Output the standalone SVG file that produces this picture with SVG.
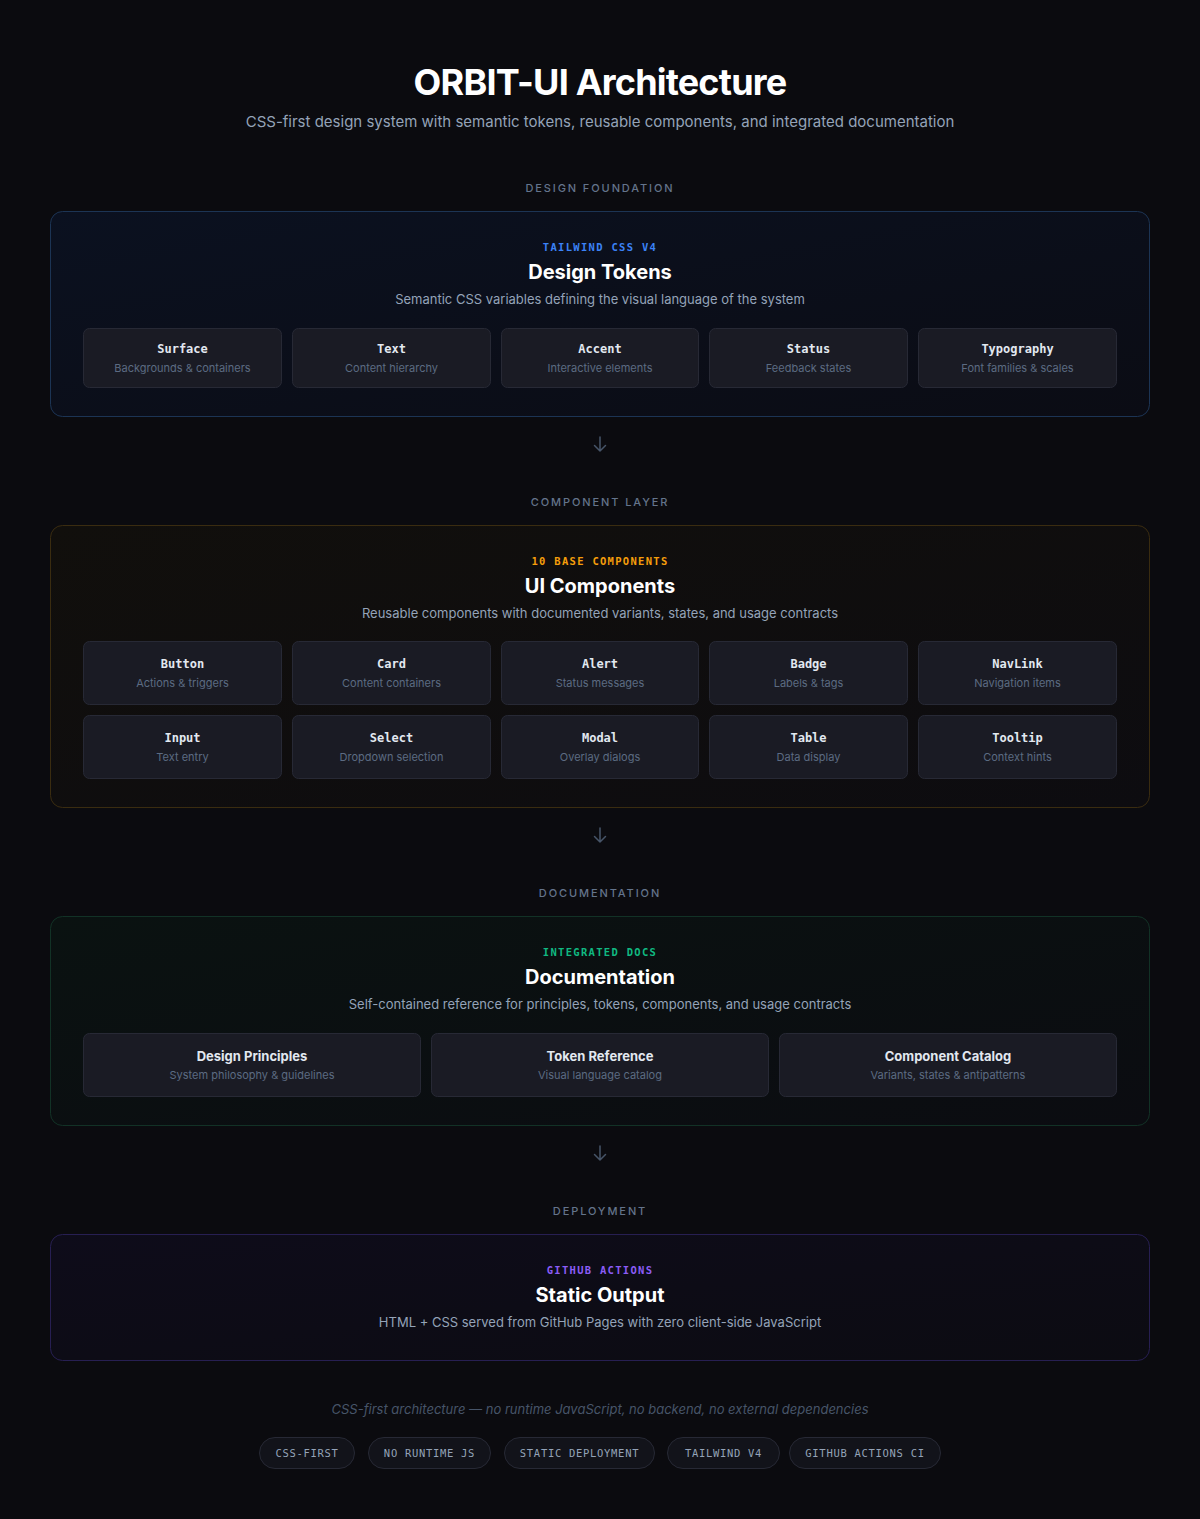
<svg xmlns="http://www.w3.org/2000/svg" width="1200" height="1519" viewBox="0 0 1200 1519">
<defs>
<style>
.sans{font-family:Inter,"Liberation Sans",sans-serif}
.mono{font-family:"DejaVu Sans Mono","Liberation Mono",monospace}
.h1{font-size:36px;font-weight:700;fill:#ffffff;letter-spacing:-0.8px}
.sub{font-size:15px;fill:#94a3b8}
.sec{font-size:11px;fill:#64748b;letter-spacing:1.9px;font-weight:500}
.tag{font-size:10.5px;font-weight:700;letter-spacing:1.3px}
.ptitle{font-size:20px;font-weight:700;fill:#ffffff}
.pdesc{font-size:13px;fill:#94a3b8}
.card{fill:#1a1b24;stroke:#272935;stroke-width:1}
.ct{font-size:12px;font-weight:700;fill:#e2e8f0}
.cs{font-size:11px;fill:#5c6b82}
.dt{font-size:13px;font-weight:700;fill:#e2e8f0}
.arrow{fill:none;stroke:#475569;stroke-width:1.5;stroke-linecap:round;stroke-linejoin:round}
.pill{fill:#12131a;stroke:#272935;stroke-width:1}
.pt{font-size:10.5px;fill:#94a3b8;letter-spacing:0.7px}
</style>
<linearGradient id="g1" x1="0" y1="0" x2="1" y2="1"><stop offset="0" stop-color="#0b1120"/><stop offset="1" stop-color="#0b0c14"/></linearGradient>
<linearGradient id="g2" x1="0" y1="0" x2="1" y2="1"><stop offset="0" stop-color="#110f0c"/><stop offset="1" stop-color="#0d0c10"/></linearGradient>
<linearGradient id="g3" x1="0" y1="0" x2="1" y2="1"><stop offset="0" stop-color="#0a1211"/><stop offset="1" stop-color="#0b0c11"/></linearGradient>
<linearGradient id="g4" x1="0" y1="0" x2="1" y2="1"><stop offset="0" stop-color="#0e0c1a"/><stop offset="1" stop-color="#0c0c12"/></linearGradient>
</defs>
<rect width="1200" height="1519" fill="#0b0b0f"/>

<g id="header">
<text class="sans h1" x="600" y="95" text-anchor="middle">ORBIT-UI Architecture</text>
<text class="sans sub" x="600" y="127" text-anchor="middle">CSS-first design system with semantic tokens, reusable components, and integrated documentation</text>
</g>

<g id="design-tokens">
<text class="sans sec" x="600" y="192" text-anchor="middle">DESIGN FOUNDATION</text>
<rect x="50.5" y="211.5" width="1099" height="205" rx="12" fill="url(#g1)" stroke="#1c3454"/>
<text class="mono tag" x="600" y="251" text-anchor="middle" fill="#3b82f6">TAILWIND CSS V4</text>
<text class="sans ptitle" x="600" y="279" text-anchor="middle">Design Tokens</text>
<text class="sans pdesc" x="600" y="304" text-anchor="middle">Semantic CSS variables defining the visual language of the system</text>
<g id="tok-surface"><rect class="card" x="83.5" y="328.5" width="198" height="59" rx="6"/><text class="mono ct" x="182.5" y="353" text-anchor="middle">Surface</text><text class="sans cs" x="182.5" y="372" text-anchor="middle">Backgrounds &amp; containers</text></g>
<g id="tok-text"><rect class="card" x="292.5" y="328.5" width="198" height="59" rx="6"/><text class="mono ct" x="391.5" y="353" text-anchor="middle">Text</text><text class="sans cs" x="391.5" y="372" text-anchor="middle">Content hierarchy</text></g>
<g id="tok-accent"><rect class="card" x="501.5" y="328.5" width="197" height="59" rx="6"/><text class="mono ct" x="600" y="353" text-anchor="middle">Accent</text><text class="sans cs" x="600" y="372" text-anchor="middle">Interactive elements</text></g>
<g id="tok-status"><rect class="card" x="709.5" y="328.5" width="198" height="59" rx="6"/><text class="mono ct" x="808.5" y="353" text-anchor="middle">Status</text><text class="sans cs" x="808.5" y="372" text-anchor="middle">Feedback states</text></g>
<g id="tok-typography"><rect class="card" x="918.5" y="328.5" width="198" height="59" rx="6"/><text class="mono ct" x="1017.5" y="353" text-anchor="middle">Typography</text><text class="sans cs" x="1017.5" y="372" text-anchor="middle">Font families &amp; scales</text></g>
</g>

<g id="ui-components">
<text class="sans sec" x="600" y="506" text-anchor="middle">COMPONENT LAYER</text>
<rect x="50.5" y="525.5" width="1099" height="282" rx="12" fill="url(#g2)" stroke="#3a2c10"/>
<text class="mono tag" x="600" y="565" text-anchor="middle" fill="#f59e0b">10 BASE COMPONENTS</text>
<text class="sans ptitle" x="600" y="593" text-anchor="middle">UI Components</text>
<text class="sans pdesc" x="600" y="618" text-anchor="middle">Reusable components with documented variants, states, and usage contracts</text>
<g id="c-button"><rect class="card" x="83.5" y="641.5" width="198" height="63" rx="6"/><text class="mono ct" x="182.5" y="668" text-anchor="middle">Button</text><text class="sans cs" x="182.5" y="687" text-anchor="middle">Actions &amp; triggers</text></g>
<g id="c-card"><rect class="card" x="292.5" y="641.5" width="198" height="63" rx="6"/><text class="mono ct" x="391.5" y="668" text-anchor="middle">Card</text><text class="sans cs" x="391.5" y="687" text-anchor="middle">Content containers</text></g>
<g id="c-alert"><rect class="card" x="501.5" y="641.5" width="197" height="63" rx="6"/><text class="mono ct" x="600" y="668" text-anchor="middle">Alert</text><text class="sans cs" x="600" y="687" text-anchor="middle">Status messages</text></g>
<g id="c-badge"><rect class="card" x="709.5" y="641.5" width="198" height="63" rx="6"/><text class="mono ct" x="808.5" y="668" text-anchor="middle">Badge</text><text class="sans cs" x="808.5" y="687" text-anchor="middle">Labels &amp; tags</text></g>
<g id="c-navlink"><rect class="card" x="918.5" y="641.5" width="198" height="63" rx="6"/><text class="mono ct" x="1017.5" y="668" text-anchor="middle">NavLink</text><text class="sans cs" x="1017.5" y="687" text-anchor="middle">Navigation items</text></g>
<g id="c-input"><rect class="card" x="83.5" y="715.5" width="198" height="63" rx="6"/><text class="mono ct" x="182.5" y="742" text-anchor="middle">Input</text><text class="sans cs" x="182.5" y="761" text-anchor="middle">Text entry</text></g>
<g id="c-select"><rect class="card" x="292.5" y="715.5" width="198" height="63" rx="6"/><text class="mono ct" x="391.5" y="742" text-anchor="middle">Select</text><text class="sans cs" x="391.5" y="761" text-anchor="middle">Dropdown selection</text></g>
<g id="c-modal"><rect class="card" x="501.5" y="715.5" width="197" height="63" rx="6"/><text class="mono ct" x="600" y="742" text-anchor="middle">Modal</text><text class="sans cs" x="600" y="761" text-anchor="middle">Overlay dialogs</text></g>
<g id="c-table"><rect class="card" x="709.5" y="715.5" width="198" height="63" rx="6"/><text class="mono ct" x="808.5" y="742" text-anchor="middle">Table</text><text class="sans cs" x="808.5" y="761" text-anchor="middle">Data display</text></g>
<g id="c-tooltip"><rect class="card" x="918.5" y="715.5" width="198" height="63" rx="6"/><text class="mono ct" x="1017.5" y="742" text-anchor="middle">Tooltip</text><text class="sans cs" x="1017.5" y="761" text-anchor="middle">Context hints</text></g>
</g>

<g id="documentation">
<text class="sans sec" x="600" y="897" text-anchor="middle">DOCUMENTATION</text>
<rect x="50.5" y="916.5" width="1099" height="209" rx="12" fill="url(#g3)" stroke="#123226"/>
<text class="mono tag" x="600" y="956" text-anchor="middle" fill="#10b981">INTEGRATED DOCS</text>
<text class="sans ptitle" x="600" y="984" text-anchor="middle">Documentation</text>
<text class="sans pdesc" x="600" y="1009" text-anchor="middle">Self-contained reference for principles, tokens, components, and usage contracts</text>
<g id="d-principles"><rect class="card" x="83.5" y="1033.5" width="337" height="63" rx="6"/><text class="sans dt" x="252" y="1061" text-anchor="middle">Design Principles</text><text class="sans cs" x="252" y="1079" text-anchor="middle">System philosophy &amp; guidelines</text></g>
<g id="d-tokens"><rect class="card" x="431.5" y="1033.5" width="337" height="63" rx="6"/><text class="sans dt" x="600" y="1061" text-anchor="middle">Token Reference</text><text class="sans cs" x="600" y="1079" text-anchor="middle">Visual language catalog</text></g>
<g id="d-catalog"><rect class="card" x="779.5" y="1033.5" width="337" height="63" rx="6"/><text class="sans dt" x="948" y="1061" text-anchor="middle">Component Catalog</text><text class="sans cs" x="948" y="1079" text-anchor="middle">Variants, states &amp; antipatterns</text></g>
</g>

<g id="static-output">
<text class="sans sec" x="600" y="1215" text-anchor="middle">DEPLOYMENT</text>
<rect x="50.5" y="1234.5" width="1099" height="126" rx="12" fill="url(#g4)" stroke="#271f52"/>
<text class="mono tag" x="600" y="1274" text-anchor="middle" fill="#8b5cf6">GITHUB ACTIONS</text>
<text class="sans ptitle" x="600" y="1302" text-anchor="middle">Static Output</text>
<text class="sans pdesc" x="600" y="1327" text-anchor="middle">HTML + CSS served from GitHub Pages with zero client-side JavaScript</text>
</g>

<g id="connectors">
<path class="arrow" d="M600 437 V451 M594.5 445.5 L600 451 L605.5 445.5"/>
<path class="arrow" d="M600 828 V842 M594.5 836.5 L600 842 L605.5 836.5"/>
<path class="arrow" d="M600 1146 V1160 M594.5 1154.5 L600 1160 L605.5 1154.5"/>
</g>

<g id="footer">
<text class="sans" x="600" y="1414" text-anchor="middle" font-size="13" font-style="italic" fill="#475569">CSS-first architecture — no runtime JavaScript, no backend, no external dependencies</text>
<g id="pill-css"><rect class="pill" x="259.5" y="1437.5" width="95" height="31" rx="15.5"/><text class="mono pt" x="307" y="1457" text-anchor="middle">CSS-FIRST</text></g>
<g id="pill-nojs"><rect class="pill" x="368.5" y="1437.5" width="122" height="31" rx="15.5"/><text class="mono pt" x="429.5" y="1457" text-anchor="middle">NO RUNTIME JS</text></g>
<g id="pill-static"><rect class="pill" x="504.5" y="1437.5" width="150" height="31" rx="15.5"/><text class="mono pt" x="579.5" y="1457" text-anchor="middle">STATIC DEPLOYMENT</text></g>
<g id="pill-tw"><rect class="pill" x="667.5" y="1437.5" width="112" height="31" rx="15.5"/><text class="mono pt" x="723.5" y="1457" text-anchor="middle">TAILWIND V4</text></g>
<g id="pill-gh"><rect class="pill" x="789.5" y="1437.5" width="151" height="31" rx="15.5"/><text class="mono pt" x="865" y="1457" text-anchor="middle">GITHUB ACTIONS CI</text></g>
</g>
</svg>
